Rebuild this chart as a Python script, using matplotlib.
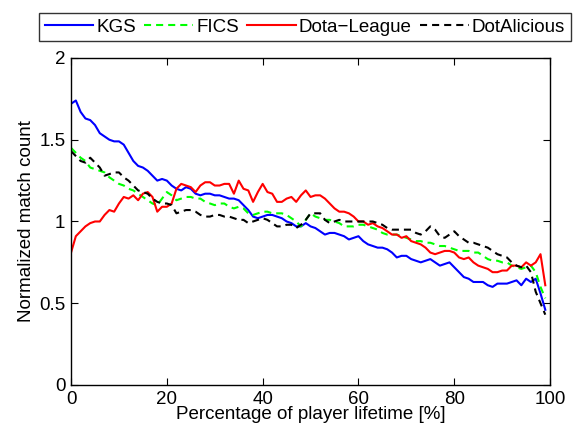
import matplotlib
matplotlib.use('Agg')
import matplotlib.pyplot as plt

plt.rcParams['font.family'] = ['Liberation Sans', 'DejaVu Sans']

# percentage of player lifetime
pct = list(range(100))

kgs = [1.72, 1.74, 1.67, 1.63, 1.62, 1.59, 1.54, 1.52, 1.50, 1.49,
       1.49, 1.47, 1.42, 1.37, 1.34, 1.33, 1.31, 1.28, 1.25, 1.26,
       1.25, 1.22, 1.20, 1.19, 1.21, 1.20, 1.17, 1.16, 1.17, 1.17,
       1.16, 1.16, 1.15, 1.14, 1.14, 1.13, 1.10, 1.07, 1.03, 1.02,
       1.03, 1.04, 1.04, 1.03, 1.02, 1.00, 0.99, 0.97, 0.97, 0.99,
       0.97, 0.96, 0.94, 0.92, 0.93, 0.93, 0.92, 0.91, 0.89, 0.90,
       0.91, 0.88, 0.86, 0.85, 0.84, 0.84, 0.83, 0.81, 0.78, 0.79,
       0.79, 0.77, 0.76, 0.75, 0.76, 0.77, 0.75, 0.73, 0.74, 0.75,
       0.72, 0.69, 0.66, 0.65, 0.63, 0.63, 0.63, 0.61, 0.60, 0.62,
       0.62, 0.62, 0.63, 0.64, 0.61, 0.65, 0.63, 0.65, 0.56, 0.46]

fics = [1.45, 1.42, 1.39, 1.37, 1.33, 1.32, 1.31, 1.30, 1.27, 1.25,
        1.23, 1.22, 1.20, 1.19, 1.17, 1.15, 1.13, 1.11, 1.10, 1.14,
        1.18, 1.16, 1.13, 1.14, 1.15, 1.15, 1.14, 1.14, 1.12, 1.11,
        1.10, 1.11, 1.11, 1.09, 1.08, 1.09, 1.08, 1.05, 1.04, 1.05,
        1.06, 1.06, 1.05, 1.05, 1.05, 1.04, 1.02, 1.00, 0.97, 1.01,
        1.05, 1.03, 1.02, 1.01, 1.01, 1.00, 0.99, 0.97, 0.97, 0.97,
        0.98, 0.98, 0.97, 0.96, 0.95, 0.93, 0.92, 0.92, 0.92, 0.91,
        0.90, 0.89, 0.88, 0.88, 0.87, 0.87, 0.86, 0.85, 0.85, 0.84,
        0.83, 0.82, 0.82, 0.82, 0.81, 0.81, 0.79, 0.77, 0.76, 0.76,
        0.75, 0.75, 0.73, 0.72, 0.71, 0.72, 0.73, 0.69, 0.60, 0.53]

dota_league = [0.81, 0.91, 0.94, 0.97, 0.99, 1.00, 1.00, 1.04, 1.07, 1.06,
               1.11, 1.15, 1.14, 1.16, 1.13, 1.17, 1.18, 1.15, 1.06, 1.09,
               1.09, 1.11, 1.20, 1.23, 1.22, 1.21, 1.18, 1.22, 1.24, 1.24,
               1.22, 1.22, 1.23, 1.23, 1.17, 1.25, 1.20, 1.19, 1.12, 1.18,
               1.23, 1.18, 1.17, 1.12, 1.12, 1.14, 1.15, 1.12, 1.16, 1.19,
               1.15, 1.16, 1.16, 1.14, 1.11, 1.08, 1.06, 1.06, 1.05, 1.03,
               1.00, 1.00, 0.98, 0.99, 0.97, 0.96, 0.94, 0.92, 0.92, 0.90,
               0.91, 0.88, 0.87, 0.86, 0.84, 0.81, 0.80, 0.81, 0.82, 0.82,
               0.81, 0.78, 0.77, 0.78, 0.75, 0.73, 0.72, 0.71, 0.69, 0.69,
               0.70, 0.70, 0.73, 0.73, 0.72, 0.75, 0.73, 0.75, 0.80, 0.61]

dotalicious = [1.43, 1.40, 1.37, 1.36, 1.39, 1.36, 1.33, 1.28, 1.29, 1.30,
               1.30, 1.27, 1.25, 1.22, 1.19, 1.18, 1.17, 1.14, 1.12, 1.11,
               1.11, 1.10, 1.05, 1.06, 1.07, 1.07, 1.06, 1.04, 1.03, 1.03,
               1.04, 1.04, 1.03, 1.03, 1.02, 1.01, 1.01, 0.99, 1.00, 1.01,
               1.02, 1.01, 0.99, 0.97, 0.97, 0.98, 0.98, 0.96, 0.98, 1.01,
               1.05, 1.05, 1.05, 1.01, 0.99, 1.00, 1.01, 1.00, 1.00, 1.00,
               1.00, 1.00, 1.00, 1.00, 0.99, 0.98, 0.96, 0.95, 0.95, 0.95,
               0.95, 0.95, 0.93, 0.92, 0.94, 0.97, 0.95, 0.91, 0.90, 0.92,
               0.94, 0.91, 0.89, 0.87, 0.87, 0.86, 0.85, 0.84, 0.82, 0.80,
               0.79, 0.78, 0.75, 0.73, 0.72, 0.73, 0.69, 0.57, 0.50, 0.43]

xticks = [0, 20, 40, 60, 80, 100]
yticks = [0, 0.5, 1, 1.5, 2]
ytick_labels = ['0', '0.5', '1', '1.5', '2']

fig = plt.figure(figsize=(5.73, 4.36), dpi=100)
ax = fig.add_axes([0.124, 0.117, 0.836, 0.750])

dash = (3.4, 2.4)
ax.plot(pct, kgs, color='#0000ff', lw=1.5, label='KGS')
ax.plot(pct, fics, color='#00ff00', lw=1.5, dashes=dash, label='FICS')
ax.plot(pct, dota_league, color='#ff0000', lw=1.5, label='Dota\u2212League')
ax.plot(pct, dotalicious, color='black', lw=1.5, dashes=dash, label='DotAlicious')

ax.set_xlim(0, 100)
ax.set_ylim(0, 2)
ax.set_xticks(xticks)
ax.set_yticks(yticks)
ax.set_yticklabels(ytick_labels)
ax.tick_params(direction='in', top=True, right=True, length=5, labelsize=13.5)
ax.tick_params(axis='x', pad=4)
ax.tick_params(axis='y', pad=4)
for s in ax.spines.values():
    s.set_linewidth(1.0)

ax.set_xlabel('Percentage of player lifetime [%]', fontsize=13.5, labelpad=-1)
ax.set_ylabel('Normalized match count', fontsize=13.5, labelpad=3)

leg = fig.legend(loc='center', bbox_to_anchor=(0.532, 0.938), ncol=4,
                 fontsize=13.5, frameon=True, fancybox=False, edgecolor='black',
                 handlelength=2.6, handletextpad=0.15, columnspacing=0.45,
                 borderpad=0.3, borderaxespad=0)
leg.get_frame().set_linewidth(1.0)

fig.savefig('out.png', dpi=100)
